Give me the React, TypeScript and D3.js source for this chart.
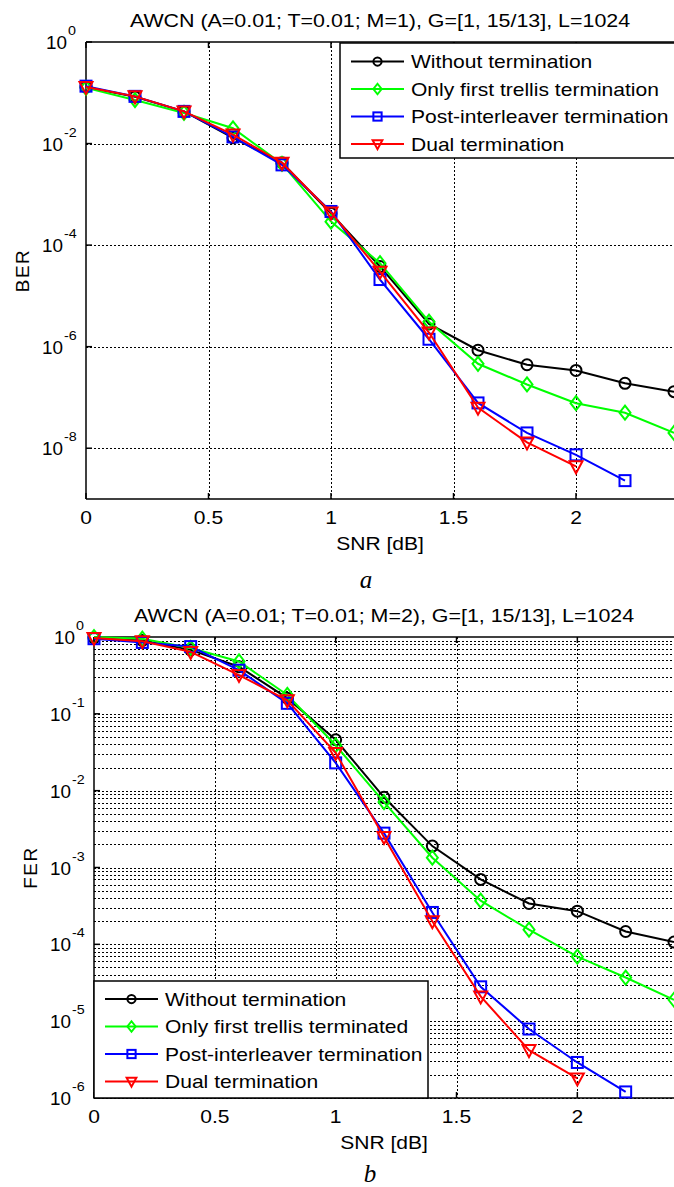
import * as d3 from "d3";
import React from "react";

// SNR points [dB]
const snr = [0, 0.2, 0.4, 0.6, 0.8, 1.0, 1.2, 1.4, 1.6, 1.8, 2.0, 2.2, 2.4];

// panel a: BER
const berWithout = [0.13, 0.083, 0.043, 0.013, 0.0042, 4.2e-4, 3.8e-5, 2.8e-6, 8.5e-7, 4.4e-7, 3.4e-7, 1.9e-7, 1.3e-7];
const berFirst = [0.125, 0.072, 0.04, 0.02, 0.004, 2.9e-4, 4.4e-5, 3.1e-6, 4.6e-7, 1.8e-7, 7.7e-8, 5.0e-8, 2.0e-8];
const berPost = [0.135, 0.085, 0.043, 0.0135, 0.0038, 4.6e-4, 2.1e-5, 1.4e-6, 7.8e-8, 2.0e-8, 7.4e-9, 2.3e-9];
const berDual = [0.13, 0.085, 0.043, 0.015, 0.0042, 4.4e-4, 3.0e-5, 1.9e-6, 6.3e-8, 1.3e-8, 4.4e-9];

// panel b: FER
const ferWithout = [0.97, 0.9, 0.68, 0.41, 0.16, 0.046, 0.0082, 0.0019, 7.0e-4, 3.4e-4, 2.7e-4, 1.47e-4, 1.07e-4];
const ferFirst = [1.0, 0.95, 0.72, 0.48, 0.176, 0.039, 0.0071, 0.00134, 3.7e-4, 1.55e-4, 6.9e-5, 3.7e-5, 1.9e-5];
const ferPost = [0.95, 0.85, 0.75, 0.37, 0.137, 0.023, 0.0028, 2.6e-4, 2.8e-5, 7.9e-6, 2.9e-6, 1.2e-6];
const ferDual = [0.97, 0.88, 0.64, 0.32, 0.15, 0.031, 0.0025, 2.0e-4, 2.1e-5, 4.2e-6, 1.8e-6];

const namesA = ["Without termination", "Only first trellis termination", "Post-interleaver termination", "Dual termination"];
const namesB = ["Without termination", "Only first trellis terminated", "Post-interleaver termination", "Dual termination"];
const colors = ["#000000", "#00ff00", "#0000ff", "#ff0000"];
const markers = ["circle", "diamond", "square", "triangle"];

const xTicks = [0, 0.5, 1, 1.5, 2];
const berExps = [0, -2, -4, -6, -8];
const ferExps = [0, -1, -2, -3, -4, -5, -6];

const FONT = "'Liberation Sans', Arial, Helvetica, sans-serif";
const SX = 1.17; // matlab text comes out wide

function T({x, y, size, anchor, sx, children}: any) {
    return <text transform={`translate(${x},${y}) scale(${sx || SX},1)`} fontSize={size}
                 textAnchor={anchor || "start"}>{children}</text>;
}

function Marker({shape, x, y, color, s = 1}: any) {
    const common = {fill: "none", stroke: color, strokeWidth: 2};
    if (shape === "circle") return <circle cx={x} cy={y} r={5.5 * s} {...common}/>;
    if (shape === "square") return <rect x={x - 5.5 * s} y={y - 5.5 * s} width={11 * s} height={11 * s} {...common}/>;
    if (shape === "diamond")
        return <path d={`M${x},${y - 7 * s}L${x + 5.5 * s},${y}L${x},${y + 7 * s}L${x - 5.5 * s},${y}Z`} {...common}/>;
    return <path d={`M${x - 6.5 * s},${y - 5 * s}L${x + 6.5 * s},${y - 5 * s}L${x},${y + 7 * s}Z`} {...common}/>;
}

function Panel(props: any) {
    const {box, title, yLabel, series, names, exps, minorGrid, legend, tag, tagY} = props;
    const x = d3.scaleLinear().domain([0, 2.4]).range([box.left, box.right]);
    const y = d3.scaleLog().domain([Math.pow(10, exps[exps.length - 1] - (props.extraDecade || 0)), 1]).range([box.bottom, box.top]);
    const line = d3.line<[number, number]>().x(d => x(d[0])).y(d => y(d[1]));
    const cx = (box.left + box.right) / 2;
    const px = (v: number) => Math.round(v) + 0.5;

    const minor: number[] = [];
    if (minorGrid) {
        const [lo, hi] = y.domain();
        for (let e = Math.round(Math.log10(lo)); e < Math.round(Math.log10(hi)); e++)
            for (let k = 2; k <= 9; k++) minor.push(k * Math.pow(10, e));
    }

    return (
        <g fontFamily={FONT}>
            <T x={cx} y={box.top - 15} size={18} anchor="middle" sx={1.19}>{title}</T>
            {/* grid */}
            <g stroke="#000" strokeWidth={1} strokeDasharray="2,2">
                {xTicks.filter(t => t > 0).map(t =>
                    <line key={"gx" + t} x1={px(x(t))} x2={px(x(t))} y1={box.top} y2={box.bottom}/>)}
                {exps.filter((e: number) => e < 0).map((e: number) =>
                    <line key={"gy" + e} x1={box.left} x2={box.right} y1={px(y(Math.pow(10, e)))} y2={px(y(Math.pow(10, e)))}/>)}
                {minor.map(v => <line key={"gm" + v} x1={box.left} x2={box.right} y1={px(y(v))} y2={px(y(v))}/>)}
            </g>
            {/* axes box */}
            <g stroke="#000" strokeWidth={1.5}>
                <line x1={box.left} x2={box.right} y1={box.top} y2={box.top}/>
                <line x1={box.left} x2={box.right} y1={box.bottom} y2={box.bottom}/>
                <line x1={box.left} x2={box.left} y1={box.top} y2={box.bottom}/>
                {xTicks.map(t => <line key={"tx" + t} x1={x(t)} x2={x(t)} y1={box.bottom} y2={box.bottom - 6}/>)}
                {xTicks.map(t => <line key={"tt" + t} x1={x(t)} x2={x(t)} y1={box.top} y2={box.top + 6}/>)}
                {exps.map((e: number) => <line key={"ty" + e} x1={box.left} x2={box.left + 6} y1={y(Math.pow(10, e))} y2={y(Math.pow(10, e))}/>)}
            </g>
            {xTicks.map(t => <T key={"lx" + t} x={x(t)} y={box.bottom + 25} size={18} anchor="middle">{t}</T>)}
            {exps.map((e: number) => {
                const yy = y(Math.pow(10, e));
                const r = box.left - (e < 0 ? 23 : 19);
                return <g key={"ly" + e}>
                    <T x={r} y={yy + 7} size={18} anchor="end" sx={1.05}>10</T>
                    <T x={r + 1} y={yy - 7} size={13} sx={1.1}>{e}</T>
                </g>;
            })}
            <T x={cx} y={box.bottom + 51} size={18} anchor="middle">SNR [dB]</T>
            <text transform={`translate(${props.yLabelX},${(box.top + box.bottom) / 2}) rotate(-90)`}
                  textAnchor="middle" fontSize={19} letterSpacing={1.5}>{yLabel}</text>
            {/* series */}
            {series.map((vals: number[], i: number) => {
                const pts: [number, number][] = vals.map((v, j) => [snr[j], v]);
                return <g key={"s" + i}>
                    <path d={line(pts) || ""} fill="none" stroke={colors[i]} strokeWidth={2}/>
                    {pts.map((p, j) => <Marker key={j} shape={markers[i]} x={x(p[0])} y={y(p[1])} color={colors[i]}/>)}
                </g>;
            })}
            {/* legend */}
            <rect x={legend.x} y={legend.y} width={legend.w} height={legend.h} fill="#fff" stroke="#000" strokeWidth={1.5}/>
            {names.map((n: string, i: number) => {
                const ly = legend.y + legend.first + i * legend.step;
                return <g key={"lg" + i}>
                    <line x1={legend.x + 11} x2={legend.x + 64} y1={ly} y2={ly} stroke={colors[i]} strokeWidth={2}/>
                    <Marker shape={markers[i]} x={legend.x + 37.5} y={ly} color={colors[i]} s={0.75}/>
                    <T x={legend.x + 71} y={ly + 6.5} size={18}>{n}</T>
                </g>;
            })}
            <text x={cx - 14} y={tagY} textAnchor="middle" fontFamily="'Liberation Serif', 'Times New Roman', serif"
                  fontStyle="italic" fontSize={25}>{tag}</text>
        </g>
    );
}

export default function App() {
    return (
        <svg width={674} height={1187} style={{position: "absolute", left: 0, top: 0, background: "#fff"}}>
            <Panel box={{left: 86, right: 674, top: 42, bottom: 499}}
                   title="AWCN (A=0.01; T=0.01; M=1), G=[1, 15/13], L=1024"
                   yLabel="BER" yLabelX={29} extraDecade={1}
                   series={[berWithout, berFirst, berPost, berDual]} names={namesA}
                   exps={berExps} minorGrid={false}
                   legend={{x: 340, y: 43, w: 360, h: 115, first: 18.5, step: 27.5}}
                   tag="a" tagY={588}/>
            <Panel box={{left: 94, right: 674, top: 637, bottom: 1098}}
                   title="AWCN (A=0.01; T=0.01; M=2), G=[1, 15/13], L=1024"
                   yLabel="FER" yLabelX={37} extraDecade={0}
                   series={[ferWithout, ferFirst, ferPost, ferDual]} names={namesB}
                   exps={ferExps} minorGrid={true}
                   legend={{x: 94, y: 981, w: 334, h: 117, first: 18, step: 27.5}}
                   tag="b" tagY={1182}/>
        </svg>
    );
}
